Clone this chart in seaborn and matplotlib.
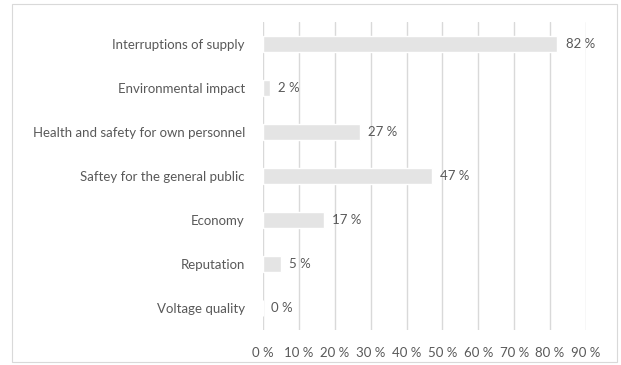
import matplotlib
matplotlib.use("Agg")
import matplotlib.pyplot as plt
import seaborn as sns
import pandas as pd
from matplotlib.patches import Rectangle

categories = ["Interruptions of supply", "Environmental impact",
              "Health and safety for own personnel", "Saftey for the general public",
              "Economy", "Reputation", "Voltage quality"]
values = [82, 2, 27, 47, 17, 5, 0]
tick_values = [0, 10, 20, 30, 40, 50, 60, 70, 80, 90]
tick_labels = [f"{v} %" for v in tick_values]

df = pd.DataFrame({"cat": categories, "val": values})

sns.set_theme(style="white")
plt.rcParams['font.family'] = ['Lato', 'DejaVu Sans']
txt = "#595959"
fs = 9.5

fig = plt.figure(figsize=(6.21, 3.65), dpi=100)
ax = fig.add_axes([263/621, 1-330/365, (586-263)/621, (330-22)/365])

sns.barplot(data=df, y="cat", x="val", orient="h", color="#e4e4e4",
            width=0.36, ax=ax, saturation=1, zorder=3)

ax.set_xlim(0, 90)
ax.set_ylim(6.5, -0.5)
ax.set_xticks(tick_values)
ax.set_xticklabels(tick_labels, color=txt, fontsize=fs)
ax.tick_params(axis="y", labelcolor=txt, labelsize=fs, length=0, pad=13)
ax.tick_params(axis="x", length=0, pad=12)
ax.set_xlabel("")
ax.set_ylabel("")
for s in ax.spines.values():
    s.set_visible(False)
for t in tick_values:
    ax.axvline(t, color="#d9d9d9", linewidth=1.0, zorder=1)

for i, v in enumerate(values):
    ax.text(v + 2.3, i, f"{v} %", va="center", ha="left", color=txt, fontsize=fs, zorder=4)

fig.patches.append(Rectangle((12/621, 3/365), (617-12)/621, (362-4)/365,
                             transform=fig.transFigure, fill=False,
                             edgecolor="#d9d9d9", linewidth=0.8))

fig.savefig("out.png", dpi=100, facecolor="white")
